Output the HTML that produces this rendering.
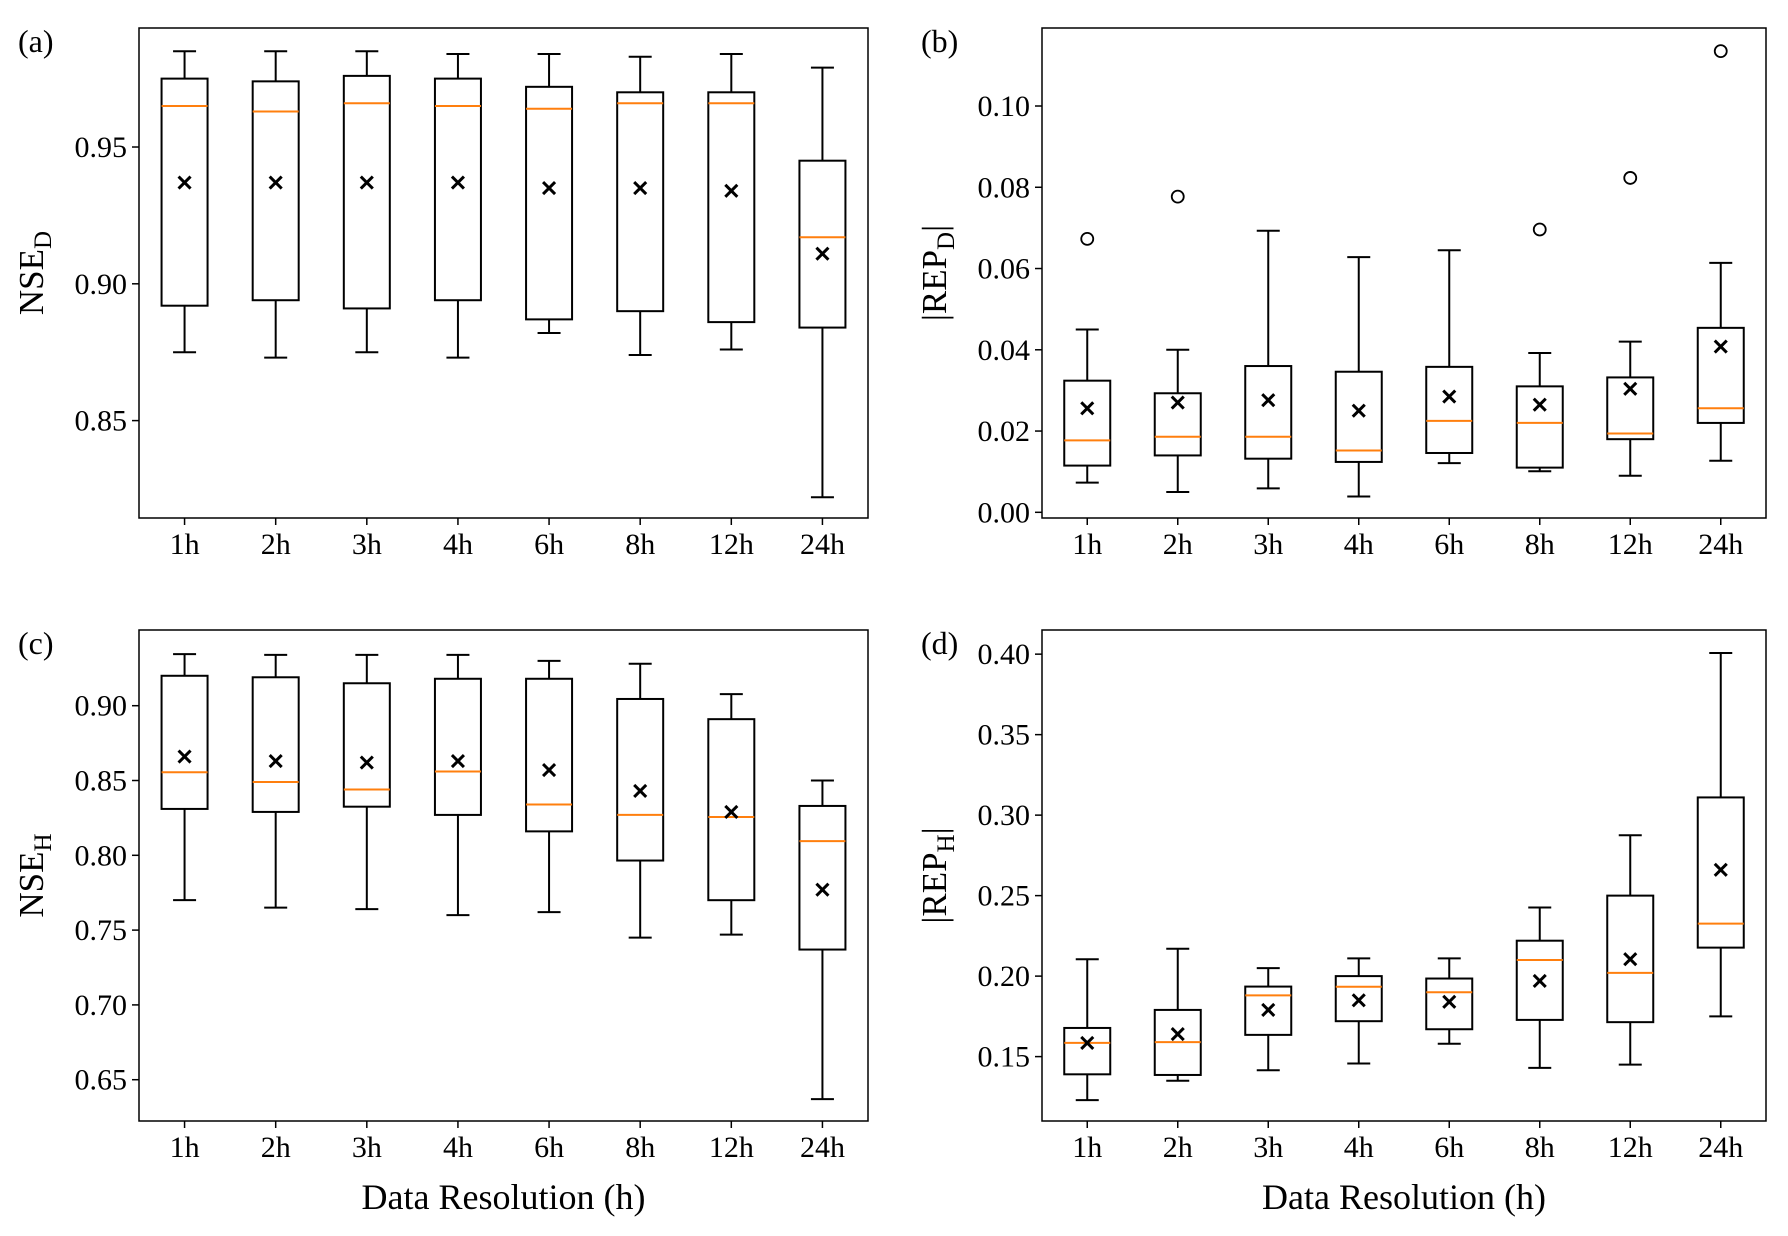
<!DOCTYPE html>
<html><head><meta charset="utf-8"><style>
body{margin:0;background:#fff}
svg{display:block;font-family:"Liberation Serif",serif}
</style></head><body>
<svg id="fig" width="1788" height="1236" viewBox="0 0 1788 1236" xmlns="http://www.w3.org/2000/svg"></svg>
<script>
const categories = ["1h","2h","3h","4h","6h","8h","12h","24h"];
// panel a NSE_D
const aLo=[0.875,0.873,0.875,0.873,0.882,0.874,0.876,0.822];
const aQ1=[0.892,0.894,0.891,0.894,0.887,0.890,0.886,0.884];
const aMed=[0.965,0.963,0.966,0.965,0.964,0.966,0.966,0.917];
const aQ3=[0.975,0.974,0.976,0.975,0.972,0.970,0.970,0.945];
const aHi=[0.985,0.985,0.985,0.984,0.984,0.983,0.984,0.979];
const aMean=[0.937,0.937,0.937,0.937,0.935,0.935,0.934,0.911];
const aFliers=[[],[],[],[],[],[],[],[]];
const aTicks=[0.85,0.90,0.95];
// panel b |REP_D|
const bLo=[0.0073,0.005,0.0059,0.0039,0.0121,0.0101,0.009,0.0127];
const bQ1=[0.0115,0.014,0.0132,0.0124,0.0146,0.011,0.018,0.022];
const bMed=[0.0177,0.0186,0.0186,0.0152,0.0225,0.022,0.0194,0.0256];
const bQ3=[0.0324,0.0293,0.036,0.0346,0.0358,0.031,0.0332,0.0454];
const bHi=[0.045,0.040,0.0693,0.0628,0.0645,0.0392,0.042,0.0614];
const bMean=[0.0256,0.027,0.0276,0.025,0.0285,0.0265,0.0304,0.0408];
const bFliers=[[0.0673],[0.0777],[],[],[],[0.0696],[0.0823],[0.1135]];
const bTicks=[0.00,0.02,0.04,0.06,0.08,0.10];
// panel c NSE_H
const cLo=[0.770,0.765,0.764,0.760,0.762,0.745,0.747,0.637];
const cQ1=[0.831,0.829,0.8325,0.827,0.816,0.7965,0.770,0.737];
const cMed=[0.8555,0.849,0.844,0.856,0.834,0.827,0.8256,0.8095];
const cQ3=[0.920,0.919,0.915,0.918,0.918,0.9045,0.891,0.833];
const cHi=[0.9345,0.934,0.934,0.934,0.930,0.928,0.9077,0.850];
const cMean=[0.866,0.863,0.862,0.863,0.857,0.843,0.829,0.777];
const cFliers=[[],[],[],[],[],[],[],[]];
const cTicks=[0.65,0.70,0.75,0.80,0.85,0.90];
// panel d |REP_H|
const dLo=[0.123,0.135,0.1415,0.1457,0.158,0.143,0.145,0.175];
const dQ1=[0.139,0.1386,0.1635,0.172,0.167,0.1728,0.1714,0.2177];
const dMed=[0.1585,0.159,0.188,0.1934,0.19,0.21,0.202,0.2326];
const dQ3=[0.1678,0.179,0.1935,0.200,0.1985,0.222,0.250,0.311];
const dHi=[0.2105,0.217,0.205,0.211,0.211,0.2426,0.2875,0.4007];
const dMean=[0.1585,0.164,0.179,0.185,0.184,0.197,0.2105,0.266];
const dFliers=[[],[],[],[],[],[],[],[]];
const dTicks=[0.15,0.20,0.25,0.30,0.35,0.40];

const NS="http://www.w3.org/2000/svg";
const svg=document.getElementById('fig');
function mk(tag,attrs,parent){const e=document.createElementNS(NS,tag);for(const k in attrs)e.setAttribute(k,attrs[k]);(parent||svg).appendChild(e);return e;}

function panel(id,box,ymin,ymax,lo,q1,med,q3,hi,mean,fliers,ticks,dec,labMain,labSub,bars,panelLabel,xlabel){
  const g=mk('g',{});
  
  
  const [L,T,R,B]=box;
  const y=v=>B-(v-ymin)/(ymax-ymin)*(B-T);
  const step=(R-L)/8.0;
  const x=i=>L+step*(i+0.5);
  const bw=46, cw=23;
  categories.forEach((c,i)=>{
    const bg=mk('g',{},g);
    
    
    const cx=x(i);
    mk('line',{x1:cx,x2:cx,y1:y(hi[i]),y2:y(q3[i]),stroke:'#000','stroke-width':2},bg);
    mk('line',{x1:cx,x2:cx,y1:y(q1[i]),y2:y(lo[i]),stroke:'#000','stroke-width':2},bg);
    mk('line',{x1:cx-cw/2,x2:cx+cw/2,y1:y(hi[i]),y2:y(hi[i]),stroke:'#000','stroke-width':2},bg);
    mk('line',{x1:cx-cw/2,x2:cx+cw/2,y1:y(lo[i]),y2:y(lo[i]),stroke:'#000','stroke-width':2},bg);
    mk('rect',{x:cx-bw/2,y:y(q3[i]),width:bw,height:y(q1[i])-y(q3[i]),fill:'none',stroke:'#000','stroke-width':2},bg);
    mk('line',{x1:cx-bw/2,x2:cx+bw/2,y1:y(med[i]),y2:y(med[i]),stroke:'#ff7f0e','stroke-width':2},bg);
    const my=y(mean[i]),s=6;
    mk('path',{d:`M${cx-s},${my-s}L${cx+s},${my+s}M${cx-s},${my+s}L${cx+s},${my-s}`,stroke:'#000','stroke-width':3},bg);
    fliers[i].forEach(f=>{mk('circle',{cx:cx,cy:y(f),r:6,fill:'none',stroke:'#000','stroke-width':1.8},bg);});
    mk('line',{x1:cx,x2:cx,y1:B,y2:B+7,stroke:'#000','stroke-width':1.5},g);
    const t=mk('text',{x:cx,y:B+36,'font-size':30,'text-anchor':'middle'},g);
    t.textContent=c;
    
    
  });
  ticks.forEach(v=>{
    const ty=y(v);
    mk('line',{x1:L-7,x2:L,y1:ty,y2:ty,stroke:'#000','stroke-width':1.5},g);
    const t=mk('text',{x:L-12,y:ty+10,'font-size':30,'text-anchor':'end'},g);
    t.textContent=v.toFixed(dec);
    
    
  });
  const fr=mk('rect',{x:L,y:T,width:R-L,height:B-T,fill:'none',stroke:'#000','stroke-width':1.5},g);
  
  
  const lx=L-96, ly=(T+B)/2;
  const yl=mk('text',{x:lx,y:ly,'font-size':35,'text-anchor':'middle',transform:`rotate(-90 ${lx} ${ly})`},g);
  
  
  const t1=mk('tspan',{},yl);t1.textContent=(bars?'|':'')+labMain;
  const t2=mk('tspan',{dy:8,'font-size':25},yl);t2.textContent=labSub;
  if(bars){const t3=mk('tspan',{dy:-8},yl);t3.textContent='|';}
  const pl=mk('text',{x:L-121,y:T+24,'font-size':32},g);
  pl.textContent=panelLabel;
  
  
  if(xlabel){
    const xl=mk('text',{x:(L+R)/2,y:B+88,'font-size':36,'text-anchor':'middle'},g);
    xl.textContent=xlabel;
    
    
  }
}
panel('a',[139,28,868,518],0.8144,0.9935,aLo,aQ1,aMed,aQ3,aHi,aMean,aFliers,aTicks,2,'NSE','D',false,'(a)',null);
panel('b',[1042,28,1766,518],-0.0014,0.1192,bLo,bQ1,bMed,bQ3,bHi,bMean,bFliers,bTicks,2,'REP','D',true,'(b)',null);
panel('c',[139,630,868,1121],0.6224,0.9506,cLo,cQ1,cMed,cQ3,cHi,cMean,cFliers,cTicks,2,'NSE','H',false,'(c)','Data Resolution (h)');
panel('d',[1042,630,1766,1121],0.110,0.415,dLo,dQ1,dMed,dQ3,dHi,dMean,dFliers,dTicks,2,'REP','H',true,'(d)','Data Resolution (h)');
</script>
</body></html>
